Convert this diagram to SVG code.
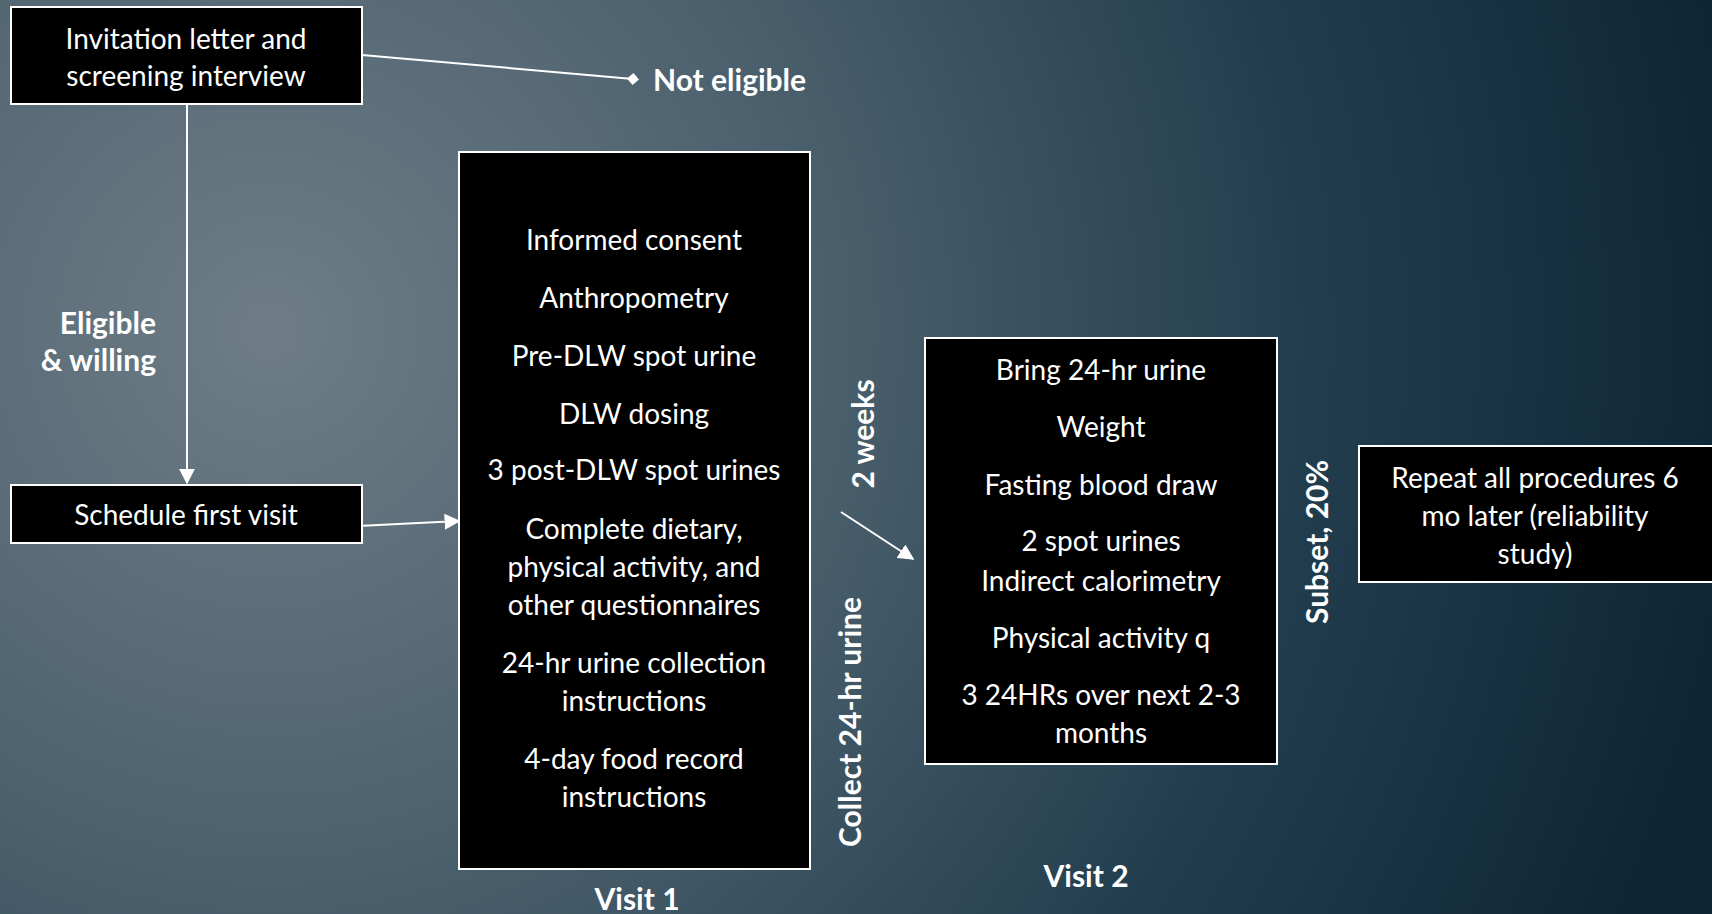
<svg xmlns="http://www.w3.org/2000/svg" width="1712" height="914" viewBox="0 0 1712 914">
<defs>
<radialGradient id="bg" cx="270" cy="330" r="1480" gradientUnits="userSpaceOnUse">
<stop offset="0" stop-color="#6e7d87"/>
<stop offset="0.38" stop-color="#4a5f6c"/>
<stop offset="0.7" stop-color="#223e4e"/>
<stop offset="1" stop-color="#0d2636"/>
</radialGradient>
<marker id="arrow" viewBox="0 0 10 10" refX="9" refY="5" markerWidth="16" markerHeight="16" orient="auto" markerUnits="userSpaceOnUse">
<path d="M0,0 L10,5 L0,10 Z" fill="#fff"/>
</marker>
<marker id="dia" viewBox="0 0 10 10" refX="5" refY="5" markerWidth="12" markerHeight="12" orient="auto" markerUnits="userSpaceOnUse">
<path d="M0,5 L5,0 L10,5 L5,10 Z" fill="#fff"/>
</marker>
</defs>
<style>
.box{fill:#000;stroke:#fff;stroke-width:2}
.t{font-family:Lato,"Liberation Sans",sans-serif;font-size:28px;fill:#fff;text-anchor:middle;dominant-baseline:central}
.b{font-family:Lato,"Liberation Sans",sans-serif;font-size:30px;font-weight:bold;fill:#fff;dominant-baseline:central}
.c{stroke:#fff;stroke-width:2;fill:none}
</style>
<rect width="1712" height="914" fill="url(#bg)"/>
<g id="connectors">
<line class="c" x1="362" y1="55" x2="633" y2="79" marker-end="url(#dia)"/>
<line class="c" x1="187" y1="104" x2="187" y2="483" marker-end="url(#arrow)"/>
<line class="c" x1="358" y1="526" x2="459" y2="521" marker-end="url(#arrow)"/>
<line class="c" x1="841" y1="512" x2="913" y2="559" marker-end="url(#arrow)"/>
</g>
<g id="invitation">
<rect class="box" x="11" y="7" width="351" height="97"/>
<text class="t" x="186" y="38">Invitation letter and</text>
<text class="t" x="186" y="75">screening interview</text>
</g>
<g id="not-eligible">
<text class="b" x="653" y="79">Not eligible</text>
</g>
<g id="eligible-label">
<text class="b" x="156" y="322" text-anchor="end">Eligible</text>
<text class="b" x="156" y="359" text-anchor="end">&amp; willing</text>
</g>
<g id="schedule">
<rect class="box" x="11" y="485" width="351" height="58"/>
<text class="t" x="186" y="514">Schedule first visit</text>
</g>
<g id="visit1">
<rect class="box" x="459" y="152" width="351" height="717"/>
<text class="t" x="634" y="239">Informed consent</text>
<text class="t" x="634" y="297">Anthropometry</text>
<text class="t" x="634" y="355">Pre-DLW spot urine</text>
<text class="t" x="634" y="413">DLW dosing</text>
<text class="t" x="634" y="469">3 post-DLW spot urines</text>
<text class="t" x="634" y="528">Complete dietary,</text>
<text class="t" x="634" y="566">physical activity, and</text>
<text class="t" x="634" y="604">other questionnaires</text>
<text class="t" x="634" y="662">24-hr urine collection</text>
<text class="t" x="634" y="700">instructions</text>
<text class="t" x="634" y="758">4-day food record</text>
<text class="t" x="634" y="796">instructions</text>
<text class="b" x="637" y="898" text-anchor="middle">Visit 1</text>
</g>
<g id="between-labels">
<text class="b" transform="translate(862,434) rotate(-90)" text-anchor="middle">2 weeks</text>
<text class="b" transform="translate(849,722) rotate(-90)" text-anchor="middle">Collect 24-hr urine</text>
</g>
<g id="visit2">
<rect class="box" x="925" y="338" width="352" height="426"/>
<text class="t" x="1101" y="369">Bring 24-hr urine</text>
<text class="t" x="1101" y="426">Weight</text>
<text class="t" x="1101" y="484">Fasting blood draw</text>
<text class="t" x="1101" y="540">2 spot urines</text>
<text class="t" x="1101" y="580">Indirect calorimetry</text>
<text class="t" x="1101" y="637">Physical activity q</text>
<text class="t" x="1101" y="694">3 24HRs over next 2-3</text>
<text class="t" x="1101" y="732">months</text>
<text class="b" x="1086" y="875" text-anchor="middle">Visit 2</text>
</g>
<g id="subset-label">
<text class="b" transform="translate(1316,542) rotate(-90)" text-anchor="middle">Subset, 20%</text>
</g>
<g id="repeat">
<rect class="box" x="1359" y="446" width="354" height="136"/>
<text class="t" x="1535" y="477">Repeat all procedures 6</text>
<text class="t" x="1535" y="515">mo later (reliability</text>
<text class="t" x="1535" y="553">study)</text>
</g>
</svg>
